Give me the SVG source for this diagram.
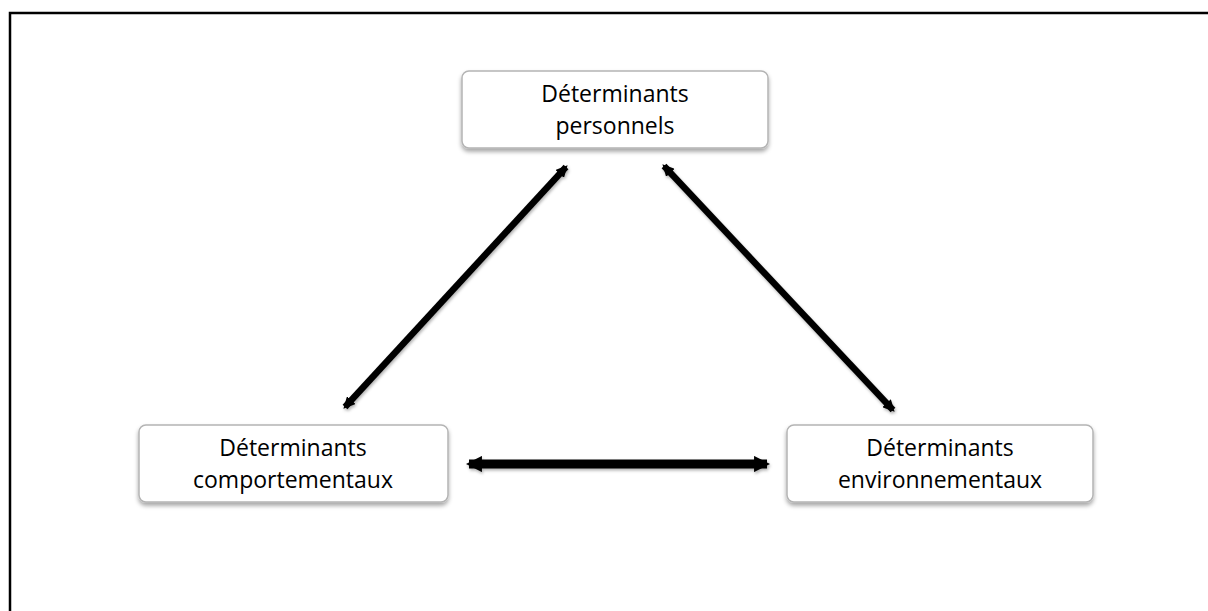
<svg xmlns="http://www.w3.org/2000/svg" width="1208" height="611" viewBox="0 0 1208 611">
<style>
.box{fill:#fff;stroke:#b4b4b4;stroke-width:1.5}
.lbl{font-family:"Open Sans","Liberation Sans",sans-serif;font-size:23px;fill:#000;text-anchor:middle}
.conn{stroke:#000;fill:none}
</style>
<defs>
<filter id="sh" x="-20%" y="-20%" width="140%" height="160%">
<feDropShadow dx="0" dy="3" stdDeviation="2" flood-color="#000" flood-opacity="0.35"/>
</filter>
<filter id="ash" x="-20%" y="-20%" width="140%" height="160%">
<feDropShadow dx="1" dy="2" stdDeviation="1.5" flood-color="#000" flood-opacity="0.3"/>
</filter>
<marker id="ah" viewBox="0 0 10 10" refX="8" refY="5" markerWidth="1.8" markerHeight="1.8" orient="auto-start-reverse" markerUnits="strokeWidth">
<path d="M0,0 L10,5 L0,10 z" fill="#000"/>
</marker>
</defs>
<rect width="1208" height="611" fill="#fff"/>
<path d="M10,611 V13 H1208" fill="none" stroke="#000" stroke-width="2.5"/>
<g id="connectors" filter="url(#ash)">
<line class="conn" x1="345" y1="407" x2="566" y2="167" stroke-width="6.5" marker-start="url(#ah)" marker-end="url(#ah)"/>
<line class="conn" x1="664" y1="166" x2="893" y2="410" stroke-width="6.5" marker-start="url(#ah)" marker-end="url(#ah)"/>
<line class="conn" x1="469" y1="464" x2="767" y2="464" stroke-width="9" marker-start="url(#ah)" marker-end="url(#ah)"/>
</g>
<g id="node-personnels">
<rect class="box" x="462" y="71" width="306" height="77" rx="7" filter="url(#sh)"/>
<text class="lbl" x="615" y="102">Déterminants</text>
<text class="lbl" x="615" y="134">personnels</text>
</g>
<g id="node-comportementaux">
<rect class="box" x="139" y="425" width="309" height="77" rx="7" filter="url(#sh)"/>
<text class="lbl" x="293" y="456">Déterminants</text>
<text class="lbl" x="293" y="488">comportementaux</text>
</g>
<g id="node-environnementaux">
<rect class="box" x="787" y="425" width="306" height="77" rx="7" filter="url(#sh)"/>
<text class="lbl" x="940" y="456">Déterminants</text>
<text class="lbl" x="940" y="488">environnementaux</text>
</g>
</svg>
